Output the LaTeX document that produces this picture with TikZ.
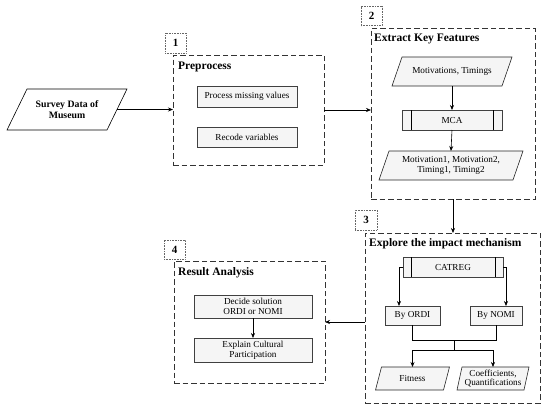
\documentclass[tikz,border=0pt]{standalone}
\usepackage{fontspec}
\setmainfont{Liberation Serif}
\usetikzlibrary{arrows.meta,calc}
\tikzset{
  base/.style={inner sep=1pt,outer sep=0pt,align=center,font=\fontsize{9.2}{10.2}\selectfont},
  dashbox/.style={draw=black!80,line width=1pt,dash pattern=on 5.5pt off 3pt,outer sep=0pt,inner sep=0pt},
  numbox/.style={draw=black!60,densely dotted,line width=0.6pt,outer sep=0pt,inner sep=0pt,font=\bfseries\fontsize{11}{13}\selectfont},
  ibox/.style={base,draw=black!75,line width=0.6pt,fill=gray!8},
  ptext/.style={base},
  para/.style={draw=black!85,line width=0.6pt,fill=gray!8},
  ttl/.style={anchor=west,inner sep=0pt,font=\bfseries\fontsize{11.5}{13}\selectfont},
  arr/.style={line width=0.6pt,-{Stealth[length=5pt,width=4pt]}},
  ln/.style={line width=0.6pt},
}
\begin{document}
\begin{tikzpicture}[x=1pt,y=-1pt]
\useasboundingbox (0,0) rectangle (550,416);

% dashed group boxes
\node[dashbox,minimum width=151pt,minimum height=110pt] (b1) at (248.5,110) {};
\node[dashbox,minimum width=164pt,minimum height=171pt] (b2) at (453,113.5) {};
\node[dashbox,minimum width=175pt,minimum height=170pt] (b3) at (452.5,318) {};
\node[dashbox,minimum width=151pt,minimum height=122pt] (b4) at (249.5,322) {};

% number labels
\node[numbox,minimum width=21pt,minimum height=20pt] (n1) at (175.5,43) {1};
\node[numbox,minimum width=21pt,minimum height=19pt] (n2) at (371.5,16) {2};
\node[numbox,minimum width=22pt,minimum height=20pt] (n3) at (366,220) {3};
\node[numbox,minimum width=21pt,minimum height=19pt] (n4) at (174.5,249.5) {4};

% titles
\node[ttl] (t1) at (178,67) {Preprocess};
\node[ttl] (t2) at (374,39) {Extract Key Features};
\node[ttl] (t3) at (369,244) {Explore the impact mechanism};
\node[ttl] (t4) at (178,273) {Result Analysis};

% survey parallelogram
\path (67,109.5) coordinate (svc);
\draw[line width=0.6pt,fill=white] ($(svc)+(-40,-20.5)$) -- ($(svc)+(60,-20.5)$) -- ($(svc)+(40,20.5)$) -- ($(svc)+(-60,20.5)$) -- cycle;
\node[ptext,font=\bfseries\fontsize{9.8}{11.5}\selectfont,minimum width=100pt,minimum height=41pt] (surv) at (svc) {Survey Data of\\Museum};

% preprocess boxes
\node[ibox,minimum width=100pt,minimum height=21pt] (pmv) at (247,96.5) {Process missing values};
\node[ibox,minimum width=100pt,minimum height=20pt] (rec) at (247,137) {Recode variables};

% extract
\path (452,71.5) coordinate (mtc);
\draw[para] ($(mtc)+(-50,-14.5)$) -- ($(mtc)+(60,-14.5)$) -- ($(mtc)+(50,14.5)$) -- ($(mtc)+(-60,14.5)$) -- cycle;
\node[ptext,minimum width=110pt,minimum height=29pt] (mt) at (mtc) {Motivations, Timings};

\node[ibox,minimum width=100pt,minimum height=20pt] (mca) at (452,120) {MCA};
\draw[ln] ([xshift=9pt]mca.north west) -- ([xshift=9pt]mca.south west);
\draw[ln] ([xshift=-9pt]mca.north east) -- ([xshift=-9pt]mca.south east);

\path (451,165.5) coordinate (outc);
\draw[para] ($(outc)+(-62,-14.5)$) -- ($(outc)+(72,-14.5)$) -- ($(outc)+(62,14.5)$) -- ($(outc)+(-72,14.5)$) -- cycle;
\node[ptext,minimum width=134pt,minimum height=29pt] (out) at (outc) {Motivation1, Motivation2,\\Timing1, Timing2};

% explore
\node[ibox,minimum width=100pt,minimum height=20pt] (cat) at (453,267) {CATREG};
\draw[ln] ([xshift=8pt]cat.north west) -- ([xshift=8pt]cat.south west);
\draw[ln] ([xshift=-8pt]cat.north east) -- ([xshift=-8pt]cat.south east);
\node[ibox,minimum width=55pt,minimum height=19pt] (ordi) at (412.5,315.5) {By ORDI};
\node[ibox,minimum width=52pt,minimum height=19pt] (nomi) at (496,315.5) {By NOMI};

\path (412.5,378.5) coordinate (fitc);
\draw[para] ($(fitc)+(-31,-11.5)$) -- ($(fitc)+(37,-11.5)$) -- ($(fitc)+(31,11.5)$) -- ($(fitc)+(-37,11.5)$) -- cycle;
\node[ptext,minimum width=68pt,minimum height=23pt] (fit) at (fitc) {Fitness};
\path (493,378.5) coordinate (coefc);
\draw[para] ($(coefc)+(-31,-11.5)$) -- ($(coefc)+(36,-11.5)$) -- ($(coefc)+(31,11.5)$) -- ($(coefc)+(-36,11.5)$) -- cycle;
\node[ptext,minimum width=67pt,minimum height=23pt,font=\fontsize{9.2}{9.6}\selectfont] (coef) at (coefc) {Coefficients,\\Quantifications};

% result analysis
\node[ibox,minimum width=118pt,minimum height=23pt] (dec) at (253,306.5) {Decide solution\\ORDI or NOMI};
\node[ibox,minimum width=118pt,minimum height=24pt] (exp) at (253,350) {Explain Cultural\\Participation};

% connectors between groups
\draw[arr] (surv.east) -- (surv.east -| b1.west);
\draw[arr] (b1.east) -- (b1.east -| b2.west);
\draw[arr] (b2.south) -- (b2.south |- b3.north);
\draw[arr] (b3.west |- b4.east) -- (b4.east);

% inner connectors
\draw[arr] (mt.south) -- (mca.north);
\draw[arr] (mca.south) -- (out.north);
\draw[arr] (dec.south) -- (exp.north);
\draw[arr] (cat.west) -- ++(-4,0) coordinate (cl) -- (cl |- ordi.north);
\draw[arr] (cat.east) -- ++(3,0) coordinate (cr) -- (cr |- nomi.north);
\draw[ln] (ordi.south) -- ++(0,15) coordinate (m1) -- (m1 -| nomi.south) -- (nomi.south);
\coordinate (mid) at ($(m1)!0.5!(m1 -| nomi.south)$);
\draw[ln] (mid) -- ++(0,10) coordinate (m2);
\draw[ln] (m2 -| fit.north) -- (m2 -| coef.north);
\draw[arr] (m2 -| fit.north) -- (fit.north);
\draw[arr] (m2 -| coef.north) -- (coef.north);
\end{tikzpicture}
\end{document}
